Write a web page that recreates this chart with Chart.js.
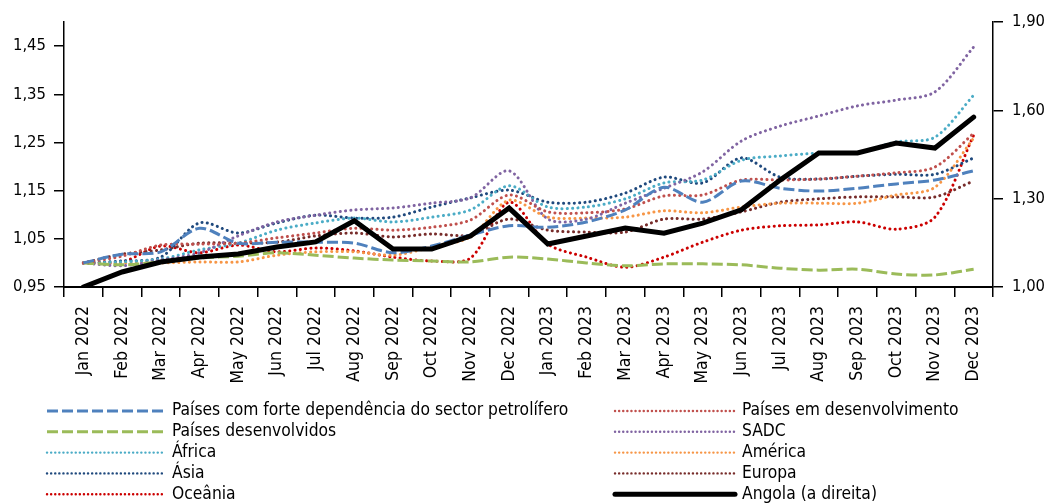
<!DOCTYPE html>
<html>
<head>
<meta charset="utf-8">
<script src="https://cdn.jsdelivr.net/npm/chart.js@4.4.0/dist/chart.umd.min.js"></script>
<style>
html,body{margin:0;padding:0;background:#ffffff;}
#wrap{width:1048px;height:504px;position:relative;}
</style>
</head>
<body>
<div id="wrap"><canvas id="c" width="1048" height="504"></canvas></div>
<script>
// ---- categories & ticks ----
const months = ["Jan 2022","Feb 2022","Mar 2022","Apr 2022","May 2022","Jun 2022","Jul 2022","Aug 2022","Sep 2022","Oct 2022","Nov 2022","Dec 2022",
                "Jan 2023","Feb 2023","Mar 2023","Apr 2023","May 2023","Jun 2023","Jul 2023","Aug 2023","Sep 2023","Oct 2023","Nov 2023","Dec 2023"];
const leftTicks  = [0.95, 1.05, 1.15, 1.25, 1.35, 1.45];
const rightTicks = [1.00, 1.30, 1.60, 1.90];

// ---- series (left axis) ----
const petroliferos   = [1.000,1.018,1.023,1.072,1.041,1.043,1.043,1.041,1.021,1.035,1.058,1.077,1.074,1.085,1.110,1.157,1.126,1.170,1.155,1.149,1.155,1.164,1.172,1.191];
const emDesenv       = [1.000,1.014,1.037,1.039,1.041,1.052,1.062,1.072,1.068,1.074,1.089,1.141,1.106,1.104,1.112,1.139,1.141,1.172,1.172,1.174,1.180,1.187,1.199,1.269];
const desenvolvidos  = [1.000,0.996,1.002,1.010,1.014,1.021,1.016,1.010,1.006,1.004,1.002,1.012,1.008,1.000,0.994,0.998,0.998,0.996,0.989,0.985,0.987,0.977,0.975,0.987];
const sadc           = [1.000,0.994,1.006,1.021,1.056,1.085,1.099,1.110,1.114,1.124,1.135,1.191,1.091,1.091,1.124,1.155,1.189,1.253,1.284,1.305,1.326,1.338,1.355,1.448];
const africa         = [1.000,1.002,1.008,1.027,1.041,1.068,1.083,1.093,1.085,1.095,1.110,1.160,1.116,1.116,1.133,1.166,1.172,1.213,1.222,1.228,1.230,1.251,1.261,1.348];
const america        = [1.000,1.000,1.000,1.002,1.002,1.016,1.023,1.023,1.016,1.033,1.054,1.130,1.095,1.093,1.095,1.108,1.104,1.116,1.124,1.124,1.124,1.141,1.157,1.259];
const asia           = [1.000,1.004,1.012,1.083,1.062,1.083,1.099,1.093,1.095,1.116,1.135,1.151,1.126,1.126,1.145,1.178,1.166,1.218,1.178,1.174,1.180,1.184,1.184,1.218];
const europa         = [1.000,1.018,1.027,1.041,1.041,1.043,1.056,1.062,1.054,1.060,1.058,1.091,1.068,1.064,1.064,1.091,1.091,1.106,1.126,1.133,1.137,1.137,1.137,1.170];
const oceania        = [1.000,1.002,1.035,1.021,1.037,1.023,1.031,1.025,1.012,1.004,1.010,1.126,1.039,1.012,0.991,1.012,1.043,1.068,1.077,1.079,1.085,1.070,1.095,1.265];
// ---- series (right axis) ----
const angola         = [1.000,1.051,1.085,1.102,1.112,1.136,1.153,1.225,1.129,1.129,1.173,1.268,1.146,1.173,1.200,1.183,1.217,1.262,1.363,1.455,1.455,1.489,1.472,1.577];

const FONT = "'DejaVu Sans Condensed', 'DejaVu Sans', sans-serif";
const DOT = [0.1, 5.2];
const DASH = [11, 4];

function dotted(label, data, color) {
  return {label, data, borderColor: color, backgroundColor: color, borderWidth: 3,
          borderDash: DOT, borderCapStyle: 'round', tension: 0.3, pointRadius: 0, yAxisID: 'y', fill: false, order: 1};
}
function dashed(label, data, color) {
  return {label, data, borderColor: color, backgroundColor: color, borderWidth: 3,
          borderDash: DASH, borderCapStyle: 'butt', tension: 0.3, pointRadius: 0, yAxisID: 'y', fill: false, order: 1};
}

const datasets = [
  dashed("Países com forte dependência do sector petrolífero", petroliferos, "#4F81BD"),
  dotted("Países em desenvolvimento", emDesenv, "#C0504D"),
  dashed("Países desenvolvidos", desenvolvidos, "#9BBB59"),
  dotted("SADC", sadc, "#8064A2"),
  dotted("África", africa, "#4BACC6"),
  dotted("América", america, "#F79646"),
  dotted("Ásia", asia, "#1F497D"),
  dotted("Europa", europa, "#772C2A"),
  dotted("Oceânia", oceania, "#CC0000"),
  {label: "Angola (a direita)", data: angola, borderColor: "#000000", backgroundColor: "#000000", borderWidth: 5,
   borderCapStyle: 'round', borderJoinStyle: 'miter', tension: 0, pointRadius: 0, yAxisID: 'y1', fill: false, order: 0}
];

const fmt = v => Number(v).toFixed(2).replace('.', ',');

const legendPlugin = {
  id: 'gridLegend',
  afterDraw(chart) {
    const ctx = chart.ctx;
    const cols = [{x0: 47, x1: 165}, {x0: 615, x1: 735}];
    const y0 = 411, dy = 20.8;
    ctx.save();
    chart.data.datasets.forEach((ds, i) => {
      const c = cols[i % 2];
      const y = y0 + Math.floor(i / 2) * dy;
      ctx.beginPath();
      ctx.strokeStyle = ds.borderColor;
      ctx.lineWidth = ds.borderDash === DOT ? 2.4 : ds.borderWidth;
      ctx.lineCap = ds.borderCapStyle || 'butt';
      ctx.setLineDash(ds.borderDash === DOT ? [0.1, 4] : (ds.borderDash || []));
      ctx.moveTo(c.x0, y);
      ctx.lineTo(c.x1, y);
      ctx.stroke();
      ctx.setLineDash([]);
      ctx.fillStyle = '#000';
      ctx.font = "17.3px " + FONT;
      ctx.textBaseline = 'middle';
      ctx.textAlign = 'left';
      ctx.fillText(ds.label, c.x1 + 7, y);
    });
    ctx.restore();
  }
};

new Chart(document.getElementById('c'), {
  type: 'line',
  data: {labels: months, datasets},
  plugins: [legendPlugin],
  options: {
    responsive: false,
    animation: false,
    devicePixelRatio: 1,
    layout: {padding: {left: 0, right: 0, top: 22, bottom: 117}},
    plugins: {legend: {display: false}, tooltip: {enabled: false}},
    scales: {
      x: {
        type: 'category', offset: true,
        grid: {display: true, drawOnChartArea: false, drawTicks: true, tickLength: 10, color: '#000', lineWidth: 1.5, offset: true},
        border: {display: true, color: '#000', width: 2},
        ticks: {autoSkip: false, maxRotation: 90, minRotation: 90, padding: 9, color: '#000', font: {family: FONT, size: 17.5}},
        afterFit: s => { s.height = 100; }
      },
      y: {
        position: 'left', min: 0.95, max: 1.5,
        afterBuildTicks: s => { s.ticks = leftTicks.map(v => ({value: v})); },
        grid: {display: true, drawOnChartArea: false, drawTicks: true, tickLength: 10, color: '#000', lineWidth: 1.5},
        border: {display: true, color: '#000', width: 1.5},
        ticks: {padding: 8, color: '#000', font: {family: FONT, size: 16.5}, callback: v => fmt(v)},
        afterFit: s => { s.width = 64; }
      },
      y1: {
        position: 'right', min: 1.0, max: 1.9,
        afterBuildTicks: s => { s.ticks = rightTicks.map(v => ({value: v})); },
        grid: {display: true, drawOnChartArea: false, drawTicks: true, tickLength: 10, color: '#000', lineWidth: 1.5},
        border: {display: true, color: '#000', width: 1.5},
        ticks: {padding: 9, color: '#000', font: {family: FONT, size: 16.5}, callback: v => fmt(v)},
        afterFit: s => { s.width = 55; }
      }
    }
  }
});
</script>
</body>
</html>
